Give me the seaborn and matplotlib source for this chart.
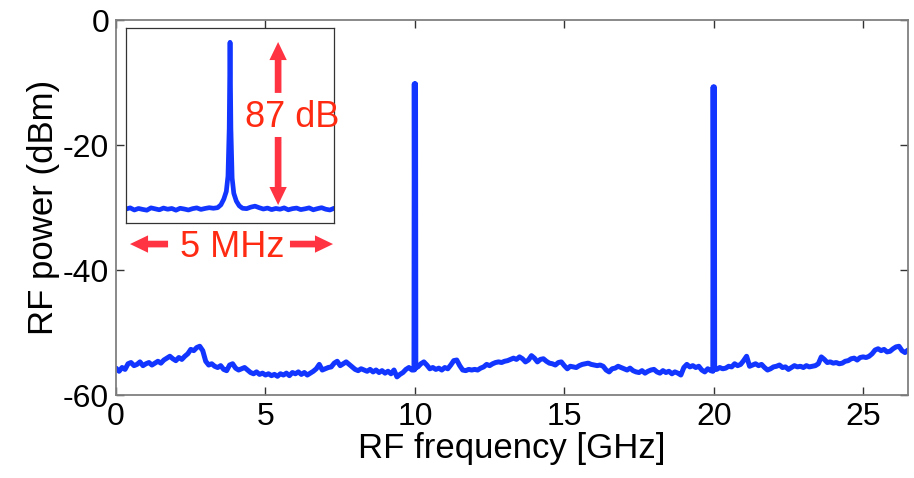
import numpy as np
import pandas as pd
import matplotlib
matplotlib.use('Agg')
import matplotlib.pyplot as plt
import seaborn as sns

# main spectrum (GHz, dBm), 0.1 GHz steps plus the two tones
freq_ghz = [round(0.1 * i, 1) for i in range(266)]
power_dbm = [
    -55.7, -56.2, -55.6, -55.9, -55.0, -54.8, -55.3, -55.1, -54.7, -55.3,
    -55.0, -54.8, -55.2, -54.9, -54.6, -54.9, -54.4, -54.1, -53.8, -54.2,
    -54.5, -54.0, -54.3, -53.8, -53.4, -52.7, -52.9, -52.4, -52.2, -52.9,
    -54.6, -55.2, -55.0, -55.4, -55.6, -55.3, -55.9, -56.1, -55.2, -55.0,
    -55.7, -56.0, -55.8, -55.6, -56.0, -56.4, -56.6, -56.3, -56.7, -56.5,
    -56.8, -56.6, -56.9, -56.7, -57.0, -56.6, -56.8, -56.5, -56.9, -56.4,
    -56.6, -56.3, -56.7, -56.4, -56.8, -56.5, -56.2, -55.8, -55.1, -56.0,
    -55.8, -55.6, -55.5, -54.9, -54.6, -55.3, -55.0, -54.7, -55.1, -55.5,
    -55.9, -56.1, -55.8, -56.0, -56.2, -55.9, -56.3, -56.0, -56.4, -56.1,
    -56.5, -56.2, -56.6, -56.0, -57.1, -56.7, -56.4, -55.9, -55.6, -56.0,
    -55.9, -55.5, -55.0, -54.7, -55.2, -55.8, -55.6, -55.9, -55.7, -56.0,
    -55.6, -55.8, -55.2, -54.5, -54.4, -55.3, -56.0, -56.1, -55.9, -56.0,
    -55.9, -56.0, -55.7, -55.5, -55.1, -55.3, -55.0, -54.8, -54.7, -54.8,
    -54.6, -54.5, -54.3, -54.1, -54.3, -53.9, -54.2, -54.7, -54.4, -53.7,
    -54.1, -54.7, -54.3, -54.2, -54.6, -54.9, -55.0, -55.2, -54.8, -54.7,
    -55.3, -55.8, -55.4, -55.5, -55.6, -55.3, -55.1, -55.0, -54.9, -55.1,
    -55.2, -55.3, -55.2, -55.4, -56.0, -56.3, -55.8, -55.7, -55.4, -55.6,
    -55.8, -56.0, -55.7, -56.1, -56.3, -56.4, -56.1, -56.5, -56.2, -56.0,
    -55.9, -56.3, -56.5, -56.1, -56.4, -56.2, -56.6, -56.3, -56.5, -56.8,
    -55.6, -55.1, -55.5, -55.3, -55.6, -55.4, -56.0, -56.3, -55.8, -56.1,
    -56.0, -55.9, -55.6, -55.8, -55.7, -55.4, -55.5, -55.0, -55.3, -55.1,
    -54.5, -53.8, -55.4, -55.2, -55.0, -55.3, -55.1, -55.6, -56.0, -55.8,
    -55.5, -55.4, -55.2, -55.6, -55.5, -55.9, -55.6, -55.3, -55.5, -55.4,
    -55.6, -55.3, -55.5, -55.4, -55.3, -55.0, -53.9, -54.3, -54.8, -54.7,
    -54.9, -54.8, -55.0, -54.9, -54.6, -54.5, -54.2, -54.1, -54.4, -54.0,
    -53.9, -54.0, -53.8, -53.4, -52.8, -52.6, -52.9, -52.7, -53.1, -53.0,
    -52.6, -52.3, -52.2, -52.9, -53.2, -52.8,
]
tone_freq_ghz = [9.97, 9.98, 10.02, 10.03, 19.97, 19.98, 20.02, 20.03]
tone_power_dbm = [-56.0, -10.2, -10.2, -55.6, -56.2, -10.7, -10.7, -55.9]

# inset: zoom on one tone (MHz offset, dB relative to the tone)
inset_off_mhz = [-2.5, -2.4, -2.3, -2.2, -2.1, -2.0, -1.9, -1.8, -1.7, -1.6, -1.5,
                 -1.4, -1.3, -1.2, -1.1, -1.0, -0.9, -0.8, -0.7, -0.6, -0.5, -0.4,
                 -0.3, -0.22, -0.15, -0.09, -0.05, -0.02, 0.0, 0.02, 0.05, 0.09,
                 0.15, 0.22, 0.3,
                 0.4, 0.5, 0.6, 0.7, 0.8, 0.9, 1.0, 1.1, 1.2, 1.3, 1.4, 1.5,
                 1.6, 1.7, 1.8, 1.9, 2.0, 2.1, 2.2, 2.3, 2.4, 2.5]
inset_rel_db = [-87.2, -86.6, -87.7, -86.9, -87.4, -87.8, -86.6, -87.1, -87.6, -86.7, -87.3,
                -86.9, -87.8, -86.8, -87.2, -87.7, -87.0, -86.6, -87.4, -86.9, -86.5, -86.8,
                -86.5, -85.0, -82.0, -78.0, -70.0, -45.0, 0.0, -45.0, -71.0, -79.0,
                -83.0, -85.5, -86.8,
                -87.0, -86.2, -85.7, -86.5, -87.2, -86.7, -87.5, -86.9, -87.3, -86.6, -87.6, -87.0,
                -86.7, -87.5, -87.1, -86.6, -87.6, -87.0, -86.5, -87.3, -87.7, -86.8]

blue = '#1236ff'
red_arrow = '#ff3341'
red_text = '#ff2a12'

sns.set_style('ticks')
plt.rcParams['font.family'] = ['Liberation Sans', 'DejaVu Sans']
plt.rcParams['axes.unicode_minus'] = False
plt.rcParams['text.color'] = 'black'
plt.rcParams['axes.labelcolor'] = 'black'
plt.rcParams['xtick.color'] = 'black'
plt.rcParams['ytick.color'] = 'black'

spec = pd.DataFrame({'f': freq_ghz + tone_freq_ghz, 'p': power_dbm + tone_power_dbm})
spec = spec.sort_values('f')
ins = pd.DataFrame({'f': inset_off_mhz, 'p': inset_rel_db})

fig = plt.figure(figsize=(9.14, 4.78), dpi=100)
ax = fig.add_axes([0.127, 0.1736, 0.8664, 0.7844])
sns.lineplot(x='f', y='p', data=spec, ax=ax, color=blue, linewidth=3.6,
             estimator=None, sort=False)
ax.set_xlim(0, 26.5)
ax.set_ylim(-60, 0)
ax.set_xticks([0, 5, 10, 15, 20, 25])
ax.set_yticks([-60, -40, -20, 0])
ax.set_xlabel('RF frequency [GHz]', fontsize=25, labelpad=0)
ax.set_ylabel('RF power (dBm)', fontsize=25, labelpad=2)
ax.tick_params(direction='in', top=True, right=True, length=6, width=1,
               color='#333333', labelsize=23, pad=5)
for s in ax.spines.values():
    s.set_color('#808080')
    s.set_linewidth(1.3)

axin = fig.add_axes([0.1379, 0.5335, 0.2276, 0.408])
sns.lineplot(x='f', y='p', data=ins, ax=axin, color=blue, linewidth=3.4,
             estimator=None, sort=False)
axin.set_xlim(-2.5, 2.5)
axin.set_ylim(-94.5, 7.5)
axin.set_xticks([])
axin.set_yticks([])
axin.set_xlabel('')
axin.set_ylabel('')
for s in axin.spines.values():
    s.set_color('#333333')
    s.set_linewidth(0.9)

arrow = dict(width=4.8, headwidth=12.5, headlength=13, lw=0, color=red_arrow, shrink=0)
axin.annotate('', xy=(0.731, 0.928), xytext=(0.731, 0.667), xycoords='axes fraction',
              arrowprops=arrow, annotation_clip=False)
axin.annotate('', xy=(0.731, 0.092), xytext=(0.731, 0.441), xycoords='axes fraction',
              arrowprops=arrow, annotation_clip=False)
axin.annotate('', xy=(0.019, -0.108), xytext=(0.202, -0.108), xycoords='axes fraction',
              arrowprops=arrow, annotation_clip=False)
axin.annotate('', xy=(0.995, -0.108), xytext=(0.788, -0.108), xycoords='axes fraction',
              arrowprops=arrow, annotation_clip=False)
axin.text(0.80, 0.54, '87 dB', transform=axin.transAxes, fontsize=26, color=red_text,
          ha='center', va='center', clip_on=False)
axin.text(0.51, -0.125, '5 MHz', transform=axin.transAxes, fontsize=26, color=red_text,
          ha='center', va='center', clip_on=False)

plt.savefig('out.png', dpi=100)
